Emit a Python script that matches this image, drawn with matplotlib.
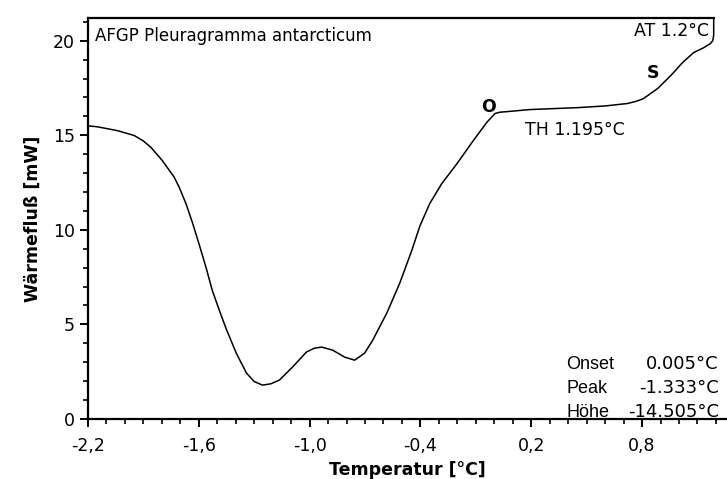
"""DSC-Kurve AFGP Pleuragramma antarcticum (Wärmefluß gegen Temperatur)."""

import matplotlib.pyplot as plt
from matplotlib.ticker import FuncFormatter, MultipleLocator, FixedLocator

plt.rcParams["font.family"] = ["DejaVu Sans"]

# Messkurve
temperature_c = [
    -2.200, -2.150, -2.043, -1.950, -1.900, -1.858, -1.798, -1.760, -1.733,
    -1.706, -1.668, -1.635, -1.597, -1.559, -1.527, -1.489, -1.451, -1.397,
    -1.342, -1.300, -1.255, -1.210, -1.163, -1.093, -1.017, -0.975, -0.935,
    -0.875, -0.810, -0.756, -0.702, -0.658, -0.582, -0.512, -0.447, -0.403,
    -0.349, -0.284, -0.202, -0.115, -0.039, 0.004, 0.030, 0.069, 0.194,
    0.449, 0.600, 0.721, 0.770, 0.808, 0.884, 0.955, 1.019, 1.079,
    1.134, 1.170, 1.183, 1.188, 1.188,
]
heat_flow_mw = [
    15.50, 15.45, 15.25, 14.99, 14.70, 14.35, 13.67, 13.15, 12.78,
    12.25, 11.35, 10.40, 9.20, 7.95, 6.80, 5.75, 4.75, 3.48,
    2.43, 1.98, 1.79, 1.86, 2.06, 2.74, 3.54, 3.74, 3.80,
    3.64, 3.27, 3.11, 3.48, 4.17, 5.60, 7.18, 8.90, 10.20,
    11.40, 12.45, 13.50, 14.70, 15.70, 16.15, 16.22, 16.25, 16.36,
    16.46, 16.55, 16.68, 16.80, 16.94, 17.47, 18.15, 18.84, 19.37,
    19.63, 19.85, 20.00, 20.30, 21.20,
]

x_major = [-2.2, -1.6, -1.0, -0.4, 0.2, 0.8]
result_labels = ["Onset", "Peak", "Höhe"]
result_values = ["0.005°C", "-1.333°C", "-14.505°C"]

X_MIN, X_MAX = -2.2, 1.26
Y_MIN, Y_MAX = 0.0, 21.2
X_FRAME_END = 1.188

fig = plt.figure(figsize=(7.27, 4.79), dpi=100)
ax = fig.add_axes([0.121, 0.1253, 0.879, 0.8371])

ax.plot(temperature_c, heat_flow_mw, color="black", linewidth=1.1)

ax.set_xlim(X_MIN, X_MAX)
ax.set_ylim(Y_MIN, Y_MAX)

ax.spines["right"].set_visible(False)
ax.spines["top"].set_visible(False)
for side in ("left", "bottom"):
    ax.spines[side].set_linewidth(1.6)
ax.axhline(Y_MAX, xmin=0, xmax=(X_FRAME_END - X_MIN) / (X_MAX - X_MIN),
           color="black", linewidth=1.6, clip_on=False)

ax.xaxis.set_major_locator(FixedLocator(x_major))
ax.xaxis.set_minor_locator(MultipleLocator(0.1))
ax.yaxis.set_major_locator(MultipleLocator(5))
ax.yaxis.set_minor_locator(MultipleLocator(1))
ax.xaxis.set_major_formatter(FuncFormatter(lambda v, p: f"{v:.1f}".replace(".", ",")))
ax.tick_params(which="major", direction="out", length=6, width=1.4, labelsize=12.5)
ax.tick_params(which="minor", direction="out", length=3.5, width=1.2)
ax.tick_params(axis="x", pad=7)

ax.set_xlabel("Temperatur [°C]", fontsize=12.5, fontweight="bold", labelpad=4)
ax.set_ylabel("Wärmefluß [mW]", fontsize=12.5, fontweight="bold", labelpad=8)

ax.text(0.011, 0.955, "AFGP Pleuragramma antarcticum", transform=ax.transAxes,
        fontsize=12, va="center", ha="left")
ax.text(1.163, 20.5, "AT 1.2°C", fontsize=12.5, ha="right", va="center")
ax.text(0.167, 15.3, "TH 1.195°C", fontsize=12.5, ha="left", va="center")
ax.text(-0.03, 16.5, "O", fontsize=12.5, fontweight="bold", ha="center", va="center")
ax.text(0.857, 18.3, "S", fontsize=12.5, fontweight="bold", ha="center", va="center")

for i, (label, value) in enumerate(zip(result_labels, result_values)):
    y = 2.9 - i * 1.27
    ax.text(0.39, y, label, fontsize=13, ha="left", va="center",
            family="Liberation Sans")
    ax.text(1.215, y, value, fontsize=13, ha="right", va="center")

fig.savefig("out.png", dpi=100)
